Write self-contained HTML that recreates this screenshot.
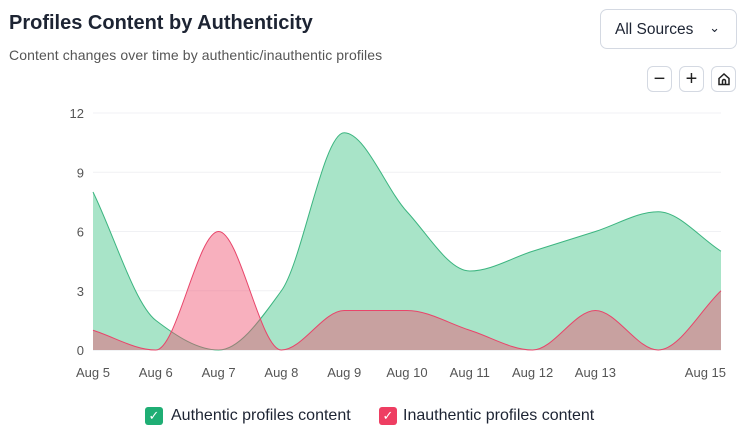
<!DOCTYPE html>
<html><head><meta charset="utf-8"><style>
body{margin:0;width:750px;height:441px;background:#fff;font-family:"Liberation Sans",sans-serif;position:relative;overflow:hidden;color:#1d2433}
.abs{position:absolute}
.btn{position:absolute;top:66px;width:25px;height:26px;border:1px solid #d4d9e2;border-radius:6px;box-sizing:border-box;display:flex;align-items:center;justify-content:center;font-size:20px;color:#222}
</style></head><body>
<div class="abs" style="left:9px;top:12px;font-size:20px;font-weight:bold">Profiles Content by Authenticity</div>
<div class="abs" style="left:9px;top:47px;font-size:14px;letter-spacing:0.1px;color:#555">Content changes over time by authentic/inauthentic profiles</div>
<div class="abs" style="left:600px;top:9px;width:137px;height:40px;border:1px solid #d4d9e2;border-radius:7px;box-sizing:border-box;font-size:15.5px;line-height:40px;padding-left:14px">All Sources <span style="position:absolute;right:16px;top:-2px;font-size:13px">&#8964;</span></div>
<div class="btn" style="left:647px">−</div>
<div class="btn" style="left:679px">+</div>
<div class="btn" style="left:711px"><svg width="14" height="14" viewBox="0 0 14 14"><path d="M2 6.5L7 2l5 4.5V12.5H2z M5.5 12.5V9a1.5 1.5 0 0 1 3 0v3.5" fill="none" stroke="#222" stroke-width="1.5"/></svg></div>
<svg id="c" class="abs" style="left:0;top:0" width="750" height="441"></svg>
<div class="abs" style="left:145px;top:407px;font-size:16px;display:flex;align-items:center"><span style="width:18px;height:18px;background:#1fae74;border-radius:3px;color:#fff;font-size:13px;text-align:center;line-height:18px;margin-right:8px">✓</span>Authentic profiles content</div>
<div class="abs" style="left:379px;top:407px;font-size:16px;display:flex;align-items:center"><span style="width:18px;height:18px;background:#ee3e62;border-radius:3px;color:#fff;font-size:13px;text-align:center;line-height:18px;margin-right:6px">✓</span>Inauthentic profiles content</div>
<script>
const categories=["Aug 5","Aug 6","Aug 7","Aug 8","Aug 9","Aug 10","Aug 11","Aug 12","Aug 13","Aug 14","Aug 15"];
const tickLabels=["Aug 5","Aug 6","Aug 7","Aug 8","Aug 9","Aug 10","Aug 11","Aug 12","Aug 13","","Aug 15"];
const authentic=[8,1.5,0,3,11,7,4,5,6,7,5];
const inauthentic=[1,0,6,0,2,2,1,0,2,0,3];
const yTicks=[0,3,6,9,12];
const svg=document.getElementById('c');const NS='http://www.w3.org/2000/svg';
const x0=93,x1=721,yb=350,yt=113;
const X=i=>x0+(x1-x0)*i/(categories.length-1);
const Y=v=>yb-(yb-yt)*v/12;
function mk(t,a,p){const e=document.createElementNS(NS,t);for(const k in a)e.setAttribute(k,a[k]);(p||svg).appendChild(e);return e;}
yTicks.forEach(v=>{const g=mk('line',{x1:x0,x2:x1,y1:Y(v),y2:Y(v),stroke:v?'#f0f1f4':'#e3e5ea'});
const t=mk('text',{x:x0-9,y:Y(v)+5,'text-anchor':'end','font-size':13,fill:'#555'});t.textContent=v;});
tickLabels.forEach((l,i)=>{if(!l)return;const last=i===tickLabels.length-1;const t=mk('text',{x:last?X(i)+5:X(i),y:377,'text-anchor':last?'end':'middle','font-size':13,fill:'#555'});t.textContent=l;});
function mono(vals){const n=vals.length,p=vals.map((v,i)=>[X(i),Y(v)]);const d=[],m=[];for(let i=0;i<n-1;i++)d.push((p[i+1][1]-p[i][1])/(p[i+1][0]-p[i][0]));
m[0]=d[0];m[n-1]=d[n-2];
for(let i=1;i<n-1;i++){if(d[i-1]*d[i]<=0){m[i]=0;continue;}m[i]=2/(1/d[i-1]+1/d[i]);}
let s='M'+p[0][0]+','+p[0][1];for(let i=0;i<n-1;i++){const h=(p[i+1][0]-p[i][0])/3;s+=`C${p[i][0]+h},${p[i][1]+m[i]*h} ${p[i+1][0]-h},${p[i+1][1]-m[i+1]*h} ${p[i+1][0]},${p[i+1][1]}`;}return s;}
function series(vals,fill,stroke,name){const l=mono(vals);const a=mk('path',{d:l+`L${x1},${yb}L${x0},${yb}Z`,fill:fill});
const ln=mk('path',{d:l,fill:'none',stroke:stroke,'stroke-width':1});}
series(authentic,'#a8e4c8','#3cb580','authentic');
series(inauthentic,'rgba(240,80,110,0.45)','#e8456a','inauthentic');
</script>
</body></html>
